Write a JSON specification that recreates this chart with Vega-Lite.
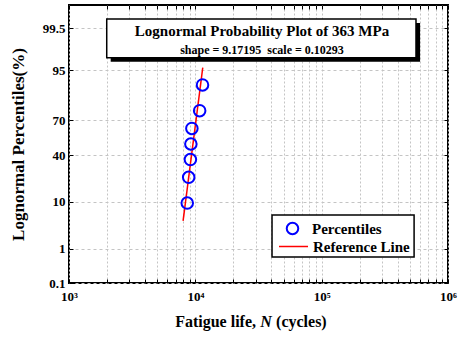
{
  "$schema": "https://vega.github.io/schema/vega-lite/v6.json",
  "width": 379,
  "height": 278,
  "autosize": {"type": "none"},
  "padding": {"left": 69, "top": 5, "right": 10, "bottom": 54},
  "background": "white",
  "datasets": {
    "pts": [
      {"N": 8630, "p": 9.46, "series": "Percentiles"},
      {"N": 8860, "p": 22.97, "series": "Percentiles"},
      {"N": 9140, "p": 36.49, "series": "Percentiles"},
      {"N": 9220, "p": 50.0, "series": "Percentiles"},
      {"N": 9390, "p": 63.51, "series": "Percentiles"},
      {"N": 10820, "p": 77.03, "series": "Percentiles"},
      {"N": 11400, "p": 90.54, "series": "Percentiles"}
    ],
    "ref": [
      {"N": 8000, "p": 4.36, "series": "Reference Line"},
      {"N": 11450, "p": 95.54, "series": "Reference Line"}
    ]
  },
  "resolve": {"scale": {"stroke": "independent"}, "legend": {"stroke": "independent"}},
  "layer": [
    {
      "data": {"values": [{}]},
      "mark": {"type": "rect", "fill": "black"},
      "encoding": {
        "x": {"datum": 2138, "type": "quantitative", "scale": {"type": "log", "domain": [1000, 1000000]},
              "axis": {"orient": "top", "labels": false, "title": null, "grid": false, "domain": false, "tickSize": -4, "tickColor": "black", "tickWidth": 1,
                       "values": [1000,2000,3000,4000,5000,6000,7000,8000,9000,10000,20000,30000,40000,50000,60000,70000,80000,90000,100000,200000,300000,400000,500000,600000,700000,800000,900000,1000000]}},
        "x2": {"datum": 601000},
        "y": {"datum": 2.691, "type": "quantitative", "scale": {"domain": [-3.0902, 3.0902], "zero": false, "nice": false},
              "axis": {"orient": "right", "labels": false, "title": null, "grid": false, "domain": false, "tickSize": -4, "tickColor": "black",
                       "values": [-3.0902, -2.3263, -1.2816, -0.2533, 0.5244, 1.6449, 2.5758]}},
        "y2": {"datum": 1.827}
      }
    },
    {
      "data": {"values": [{}]},
      "mark": {"type": "rect", "fill": "white", "stroke": "black", "strokeWidth": 1.5},
      "encoding": {
        "x": {"datum": 1989, "type": "quantitative", "axis": null},
        "x2": {"datum": 558000},
        "y": {"datum": 2.78, "type": "quantitative", "axis": null},
        "y2": {"datum": 1.916}
      }
    },
    {
      "data": {"values": [{}]},
      "mark": {"type": "rect", "fill": "white", "stroke": "black", "strokeWidth": 1.5},
      "encoding": {
        "x": {"datum": 40460, "type": "quantitative", "axis": null},
        "x2": {"datum": 539000},
        "y": {"datum": -1.578, "type": "quantitative", "axis": null},
        "y2": {"datum": -2.512}
      }
    },
    {
      "data": {"values": [{}]},
      "mark": {"type": "text", "text": "Lognormal Probability Plot of 363 MPa", "font": "Liberation Serif", "fontWeight": "bold", "fontSize": 15, "align": "center", "baseline": "middle"},
      "encoding": {
        "x": {"datum": 33700, "type": "quantitative", "axis": null},
        "y": {"datum": 2.514, "type": "quantitative", "axis": null}
      }
    },
    {
      "data": {"values": [{}]},
      "mark": {"type": "text", "text": "shape = 9.17195\u00a0\u00a0scale = 0.10293", "font": "Liberation Serif", "fontWeight": "bold", "fontSize": 12, "align": "center", "baseline": "middle"},
      "encoding": {
        "x": {"datum": 33700, "type": "quantitative", "axis": null},
        "y": {"datum": 2.093, "type": "quantitative", "axis": null}
      }
    },
    {
      "data": {"values": [{}]},
      "mark": {"type": "text", "text": "Fatigue life,", "font": "Liberation Serif", "fontWeight": "bold", "fontSize": 16, "align": "right", "baseline": "middle"},
      "encoding": {
        "x": {"datum": 30240, "type": "quantitative", "axis": null},
        "y": {"datum": -3.957, "type": "quantitative", "axis": null}
      }
    },
    {
      "data": {"values": [{}]},
      "mark": {"type": "text", "text": "N", "font": "Liberation Serif", "fontWeight": "bold", "fontStyle": "italic", "fontSize": 16, "align": "center", "baseline": "middle"},
      "encoding": {
        "x": {"datum": 36290, "type": "quantitative", "axis": null},
        "y": {"datum": -3.957, "type": "quantitative", "axis": null}
      }
    },
    {
      "data": {"values": [{}]},
      "mark": {"type": "text", "text": "(cycles)", "font": "Liberation Serif", "fontWeight": "bold", "fontSize": 16, "align": "left", "baseline": "middle"},
      "encoding": {
        "x": {"datum": 43550, "type": "quantitative", "axis": null},
        "y": {"datum": -3.957, "type": "quantitative", "axis": null}
      }
    },
    {
      "data": {"name": "ref"},
      "transform": [{"calculate": "quantileNormal(datum.p/100)", "as": "z"}],
      "mark": {"type": "line", "strokeWidth": 1.5},
      "encoding": {
        "x": {"field": "N", "type": "quantitative", "axis": null},
        "y": {"field": "z", "type": "quantitative", "axis": null},
        "stroke": {"field": "series", "type": "nominal",
                   "scale": {"domain": ["Reference Line"], "range": ["#ff0000"]},
                   "legend": {"title": null, "orient": "none", "legendX": 209, "legendY": 226, "padding": 0,
                              "symbolType": "stroke", "symbolSize": 841, "symbolStrokeWidth": 1.5, "labelOffset": 4,
                              "labelFont": "Liberation Serif", "labelFontWeight": "bold", "labelFontSize": 15, "labelColor": "black"}}
      }
    },
    {
      "data": {"name": "pts"},
      "transform": [{"calculate": "quantileNormal(datum.p/100)", "as": "z"}],
      "mark": {"type": "point", "shape": "circle", "filled": false, "size": 133, "strokeWidth": 2, "opacity": 1},
      "encoding": {
        "x": {"field": "N", "type": "quantitative",
              "axis": {"title": null, "orient": "bottom",
                       "values": [1000,2000,3000,4000,5000,6000,7000,8000,9000,10000,20000,30000,40000,50000,60000,70000,80000,90000,100000,200000,300000,400000,500000,600000,700000,800000,900000,1000000],
                       "labelExpr": "datum.value==1000?'10³':datum.value==10000?'10⁴':datum.value==100000?'10⁵':datum.value==1000000?'10⁶':''",
                       "labelOverlap": false, "labelFlush": false, "labelPadding": 11,
                       "grid": true, "gridDash": [2, 2], "gridColor": "#c4c4c4", "gridWidth": 1,
                       "domain": false, "tickSize": -4, "tickColor": "black",
                       "labelFont": "Liberation Serif", "labelFontWeight": "bold", "labelFontSize": 13, "labelColor": "black"}},
        "y": {"field": "z", "type": "quantitative",
              "axis": {"title": "Lognormal Percentiles(%)", "orient": "left",
                       "values": [-3.0902, -2.3263, -1.2816, -0.2533, 0.5244, 1.6449, 2.5758],
                       "labelExpr": "format(cumulativeNormal(datum.value)*100, '.1~f')",
                       "labelOverlap": false, "labelFlush": false, "labelPadding": 8,
                       "grid": true, "gridDash": [3, 3], "gridColor": "#c4c4c4", "gridWidth": 1,
                       "domain": false, "tickSize": -4, "tickColor": "black",
                       "labelFont": "Liberation Serif", "labelFontWeight": "bold", "labelFontSize": 13, "labelColor": "black",
                       "titleFont": "Liberation Serif", "titleFontWeight": "bold", "titleFontSize": 17, "titleColor": "black", "titlePadding": 15}},
        "stroke": {"field": "series", "type": "nominal",
                   "scale": {"domain": ["Percentiles"], "range": ["#0000ff"]},
                   "legend": {"title": null, "orient": "none", "legendX": 216, "legendY": 216, "padding": 0,
                              "symbolType": "circle", "symbolSize": 133, "symbolStrokeWidth": 2, "labelOffset": 12,
                              "labelFont": "Liberation Serif", "labelFontWeight": "bold", "labelFontSize": 15, "labelColor": "black"}}
      }
    }
  ],
  "config": {
    "view": {"stroke": "black", "strokeWidth": 2}
  }
}
